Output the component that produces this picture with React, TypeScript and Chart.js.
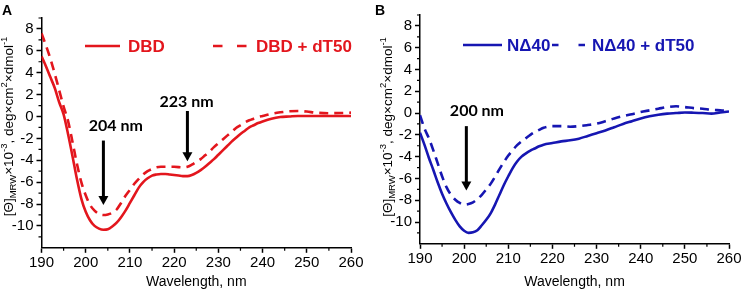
import React, { useEffect, useRef } from "react";
import { Chart, registerables } from "chart.js";
Chart.register(...registerables);

// ---------- data ----------
const dbdWavelength = [190, 191, 192, 193, 194, 195, 196, 197, 198, 199, 200, 201, 202, 203, 204, 205, 206, 207, 208, 209, 210, 211, 212, 213, 214, 215, 216, 217, 218, 219, 220, 221, 222, 223, 224, 225, 226, 227, 228, 229, 230, 231, 232, 233, 234, 235, 236, 237, 238, 239, 240, 242, 244, 246, 248, 250, 255, 260];
const dbdSignal = [5.5, 4.6, 3.6, 2.6, 1.3, 0.2, -1.6, -3.6, -5.7, -7.5, -8.7, -9.5, -10.0, -10.25, -10.35, -10.3, -10.05, -9.7, -9.2, -8.6, -7.9, -7.2, -6.5, -6.0, -5.65, -5.4, -5.3, -5.25, -5.25, -5.3, -5.35, -5.4, -5.45, -5.45, -5.35, -5.15, -4.9, -4.6, -4.25, -3.9, -3.5, -3.1, -2.7, -2.3, -1.95, -1.6, -1.3, -1.0, -0.8, -0.6, -0.45, -0.2, -0.05, 0, 0.05, 0.05, 0.05, 0.05];

const dbdDt50Wavelength = [190, 191, 192, 193, 194, 195, 196, 197, 198, 199, 200, 201, 202, 203, 204, 205, 206, 207, 208, 209, 210, 211, 212, 213, 214, 215, 216, 217, 218, 220, 222, 223, 224, 225, 226, 227, 228, 229, 230, 231, 232, 233, 234, 235, 236, 237, 238, 239, 240, 242, 244, 246, 248, 250, 252, 255, 258, 260];
const dbdDt50Signal = [7.6, 6.5, 5.3, 3.9, 2.4, 0.9, -0.4, -2.3, -4.3, -6.0, -7.2, -8.1, -8.6, -8.9, -9.0, -8.95, -8.8, -8.5, -7.9, -7.25, -6.7, -6.15, -5.7, -5.3, -5.0, -4.8, -4.65, -4.6, -4.6, -4.6, -4.65, -4.6, -4.4, -4.15, -3.9, -3.55, -3.2, -2.8, -2.45, -2.1, -1.75, -1.4, -1.05, -0.8, -0.55, -0.35, -0.2, -0.05, 0.05, 0.25, 0.38, 0.47, 0.5, 0.45, 0.35, 0.3, 0.32, 0.35];

const nd40Wavelength = [190, 191, 192, 193, 194, 195, 196, 197, 198, 199, 200, 201, 202, 203, 204, 205, 206, 207, 208, 209, 210, 211, 212, 213, 214, 215, 216, 217, 218, 220, 222, 224, 226, 228, 230, 232, 234, 236, 238, 240, 242, 244, 246, 248, 250, 252, 254, 256, 258, 260];
const nd40Signal = [-1.8, -2.9, -4.1, -5.2, -6.35, -7.4, -8.3, -9.1, -9.8, -10.4, -10.8, -11.0, -10.95, -10.75, -10.3, -9.8, -9.2, -8.4, -7.5, -6.6, -5.8, -5.05, -4.45, -4.0, -3.7, -3.45, -3.25, -3.05, -2.9, -2.75, -2.6, -2.5, -2.35, -2.1, -1.85, -1.6, -1.3, -1.0, -0.75, -0.5, -0.3, -0.15, -0.05, 0, 0.05, 0.03, 0, -0.05, 0.05, 0.15];

const nd40Dt50Wavelength = [190, 191, 192, 193, 194, 195, 196, 197, 198, 199, 200, 201, 202, 203, 204, 205, 206, 207, 208, 209, 210, 211, 212, 213, 214, 215, 216, 217, 218, 220, 222, 224, 226, 228, 230, 232, 234, 236, 238, 240, 242, 244, 246, 248, 250, 252, 254, 256, 258, 260];
const nd40Dt50Signal = [-0.2, -1.4, -2.3, -3.4, -4.6, -5.8, -6.8, -7.5, -7.95, -8.25, -8.4, -8.35, -8.2, -7.9, -7.5, -7.0, -6.5, -5.85, -5.15, -4.5, -3.9, -3.4, -2.95, -2.6, -2.3, -2.0, -1.75, -1.55, -1.35, -1.2, -1.2, -1.25, -1.2, -1.1, -0.98, -0.75, -0.5, -0.28, -0.1, 0.1, 0.25, 0.4, 0.55, 0.62, 0.55, 0.45, 0.4, 0.3, 0.25, 0.2];

const xTickValues = [190, 200, 210, 220, 230, 240, 250, 260];
const xMinorTickValues = [195, 205, 215, 225, 235, 245, 255];
const yTickValues = [-10, -8, -6, -4, -2, 0, 2, 4, 6, 8];
const yMinorTickValues = [-11, -9, -7, -5, -3, -1, 1, 3, 5, 7, 9];
const xRange = [190, 260];
const yRange = [-12, 9];

const seriesLabelsA = ["DBD", "DBD + dT50"];
const seriesLabelsB = ["N\u039440", "N\u039440 + dT50"];

// peak annotations (data units)
const peakTextA = ["204 nm", "223 nm"];
const peakWavelengthA = [204, 223];
const arrowTopA = [-2.2, 0.5];
const arrowTipA = [-8.1, -4.1];
const peakLabelXA = [206.8, 222.8];
const peakLabelYA = [-0.85, 1.35];

const peakTextB = ["200 nm"];
const peakWavelengthB = [200.5];
const arrowTopB = [-1.2];
const arrowTipB = [-7.1];
const peakLabelXB = [202.9];
const peakLabelYB = [0.18];

const xAxisTitle = "Wavelength, nm";
const yTitleParts = [
  { t: "[\u0398]", k: "n" },
  { t: "MRW", k: "sub" },
  { t: "\u00d710", k: "n" },
  { t: "-3", k: "sup" },
  { t: ", deg\u00d7cm", k: "n" },
  { t: "2", k: "sup" },
  { t: "\u00d7dmol", k: "n" },
  { t: "-1", k: "sup" },
];

const RED = "#e3161d";
const BLUE = "#1616b2";
const TICK_FONT = '"Liberation Sans", Arial, sans-serif';

type PanelCfg = {
  letter: string;
  letterX: number;
  color: string;
  labels: string[];
  series: { x: number[]; y: number[] }[];
  padTop: number;
  padRight: number;
  yWidth: number;
  xHeight: number;
  titleX: number;
  titleY: number;
  legend: { y: number; s0: number; s1: number; t0: number; d0: number; d1: number; dash: number[]; t1: number };
  peaks: { text: string[]; wl: number[]; top: number[]; tip: number[]; lx: number[]; ly: number[] };
};

function makeDecor(cfg: PanelCfg) {
  return {
    id: "decor" + cfg.letter,
    afterDraw(chart: any) {
      const ctx: CanvasRenderingContext2D = chart.ctx;
      const xs = chart.scales.x;
      const ys = chart.scales.y;
      const { left, top, bottom } = chart.chartArea;
      ctx.save();
      // minor ticks
      ctx.strokeStyle = "#000";
      ctx.lineWidth = 1.2;
      ctx.setLineDash([]);
      ctx.beginPath();
      xMinorTickValues.forEach((v) => {
        const p = xs.getPixelForValue(v);
        ctx.moveTo(p, bottom);
        ctx.lineTo(p, bottom + 3);
      });
      yMinorTickValues.forEach((v) => {
        const p = ys.getPixelForValue(v);
        ctx.moveTo(left, p);
        ctx.lineTo(left - 3, p);
      });
      ctx.stroke();

      // legend
      const L = cfg.legend;
      const ly = top + L.y;
      ctx.strokeStyle = cfg.color;
      ctx.lineWidth = 2.6;
      ctx.beginPath();
      ctx.moveTo(left + L.s0, ly);
      ctx.lineTo(left + L.s1, ly);
      ctx.stroke();
      ctx.setLineDash(L.dash);
      ctx.beginPath();
      ctx.moveTo(left + L.d0, ly);
      ctx.lineTo(left + L.d1, ly);
      ctx.stroke();
      ctx.setLineDash([]);
      ctx.fillStyle = cfg.color;
      ctx.font = 'bold 17px "Liberation Sans", Arial, sans-serif';
      ctx.textAlign = "left";
      ctx.textBaseline = "middle";
      ctx.fillText(cfg.labels[0], left + L.t0, ly + 1);
      ctx.fillText(cfg.labels[1], left + L.t1, ly + 1);

      // peak annotations
      const P = cfg.peaks;
      ctx.fillStyle = "#000";
      ctx.strokeStyle = "#000";
      ctx.font = "bold 16px Lato, sans-serif";
      ctx.textAlign = "center";
      for (let i = 0; i < P.text.length; i++) {
        ctx.fillText(P.text[i], xs.getPixelForValue(P.lx[i]), ys.getPixelForValue(P.ly[i]));
        const ax = xs.getPixelForValue(P.wl[i]);
        const y0 = ys.getPixelForValue(P.top[i]);
        const y1 = ys.getPixelForValue(P.tip[i]);
        ctx.lineWidth = 3;
        ctx.beginPath();
        ctx.moveTo(ax, y0);
        ctx.lineTo(ax, y1 - 8);
        ctx.stroke();
        ctx.beginPath();
        ctx.moveTo(ax - 5, y1 - 9);
        ctx.lineTo(ax + 5, y1 - 9);
        ctx.lineTo(ax, y1);
        ctx.closePath();
        ctx.fill();
      }

      // y-axis title with sub/superscripts
      ctx.save();
      ctx.translate(left - cfg.titleX, cfg.titleY);
      ctx.rotate(-Math.PI / 2);
      const fontFor = (k: string) => (k === "n" ? `13.5px ${TICK_FONT}` : `9.5px ${TICK_FONT}`);
      let total = 0;
      yTitleParts.forEach((p) => {
        ctx.font = fontFor(p.k);
        total += ctx.measureText(p.t).width;
      });
      let cx = -total / 2;
      ctx.textAlign = "left";
      ctx.textBaseline = "alphabetic";
      ctx.fillStyle = "#000";
      yTitleParts.forEach((p) => {
        ctx.font = fontFor(p.k);
        const dy = p.k === "sub" ? 8 : p.k === "sup" ? -1 : 5;
        ctx.fillText(p.t, cx, dy);
        cx += ctx.measureText(p.t).width;
      });
      ctx.restore();

      // panel letter
      ctx.font = `bold 14px ${TICK_FONT}`;
      ctx.fillStyle = "#000";
      ctx.textAlign = "left";
      ctx.textBaseline = "alphabetic";
      ctx.fillText(cfg.letter, cfg.letterX, 15);
      ctx.restore();
    },
  };
}

function buildConfig(cfg: PanelCfg): any {
  const dashes = [[], [9, 6]];
  return {
    type: "line",
    data: {
      datasets: cfg.series.map((s, i) => ({
        label: cfg.labels[i],
        data: s.x.map((x, j) => ({ x, y: s.y[j] })),
        borderColor: cfg.color,
        borderWidth: 2.6,
        borderDash: dashes[i],
        pointRadius: 0,
        fill: false,
        cubicInterpolationMode: "monotone",
      })),
    },
    options: {
      animation: false,
      responsive: false,
      devicePixelRatio: 1,
      layout: { padding: { top: cfg.padTop, right: cfg.padRight, bottom: 0, left: 0 } },
      plugins: { legend: { display: false }, tooltip: { enabled: false }, title: { display: false } },
      scales: {
        x: {
          type: "linear",
          min: xRange[0],
          max: xRange[1],
          afterBuildTicks: (s: any) => {
            s.ticks = xTickValues.map((v) => ({ value: v }));
          },
          afterFit: (s: any) => {
            s.height = cfg.xHeight;
            s.paddingLeft = 0;
            s.paddingRight = 0;
          },
          grid: { drawOnChartArea: false, drawTicks: true, tickLength: 5, color: "#000", tickColor: "#000", tickWidth: 1.5 },
          border: { display: true, color: "#000", width: 1.5 },
          ticks: { font: { family: TICK_FONT, size: 15 }, color: "#000", padding: 1, maxRotation: 0, autoSkip: false },
          title: { display: true, text: xAxisTitle, font: { family: TICK_FONT, size: 14 }, color: "#000", padding: 0 },
        },
        y: {
          type: "linear",
          min: yRange[0],
          max: yRange[1],
          afterBuildTicks: (s: any) => {
            s.ticks = yTickValues.map((v) => ({ value: v }));
          },
          afterFit: (s: any) => {
            s.width = cfg.yWidth;
            s.paddingTop = 0;
            s.paddingBottom = 0;
          },
          grid: { drawOnChartArea: false, drawTicks: true, tickLength: 5, color: "#000", tickColor: "#000", tickWidth: 1.5 },
          border: { display: true, color: "#000", width: 1.5 },
          ticks: { font: { family: TICK_FONT, size: 15 }, color: "#000", padding: 3 },
        },
      },
    },
    plugins: [makeDecor(cfg)],
  };
}

const panelA: PanelCfg = {
  letter: "A",
  letterX: 2,
  color: RED,
  labels: seriesLabelsA,
  series: [
    { x: dbdWavelength, y: dbdSignal },
    { x: dbdDt50Wavelength, y: dbdDt50Signal },
  ],
  padTop: 18,
  padRight: 19,
  yWidth: 41.5,
  xHeight: 43.2,
  titleX: 33.5,
  titleY: 126.5,
  legend: { y: 28, s0: 43.5, s1: 78.5, t0: 86.5, d0: 171.5, d1: 205.5, dash: [9.5, 14.5], t1: 214.5 },
  peaks: { text: peakTextA, wl: peakWavelengthA, top: arrowTopA, tip: arrowTipA, lx: peakLabelXA, ly: peakLabelYA },
};

const panelB: PanelCfg = {
  letter: "B",
  letterX: 5,
  color: BLUE,
  labels: seriesLabelsB,
  series: [
    { x: nd40Wavelength, y: nd40Signal },
    { x: nd40Dt50Wavelength, y: nd40Dt50Signal },
  ],
  padTop: 15,
  padRight: 12,
  yWidth: 50,
  xHeight: 47.2,
  titleX: 33,
  titleY: 127,
  legend: { y: 30, s0: 43, s1: 82, t0: 87, d0: 132, d1: 165, dash: [6.5, 20], t1: 172 },
  peaks: { text: peakTextB, wl: peakWavelengthB, top: arrowTopB, tip: arrowTipB, lx: peakLabelXB, ly: peakLabelYB },
};

function Panel({ cfg, left, width }: { cfg: PanelCfg; left: number; width: number }) {
  const ref = useRef<HTMLCanvasElement | null>(null);
  useEffect(() => {
    if (!ref.current) return;
    const chart = new Chart(ref.current, buildConfig(cfg));
    return () => chart.destroy();
  }, [cfg]);
  return (
    <canvas
      ref={ref}
      width={width}
      height={291}
      style={{ position: "absolute", left, top: 0, width, height: 291, display: "block" }}
    />
  );
}

export default function App() {
  return (
    <div style={{ position: "fixed", left: 0, top: 0, width: 741, height: 291, background: "#fff", overflow: "hidden" }}>
      <Panel cfg={panelA} left={0} width={370} />
      <Panel cfg={panelB} left={370} width={371} />
    </div>
  );
}
